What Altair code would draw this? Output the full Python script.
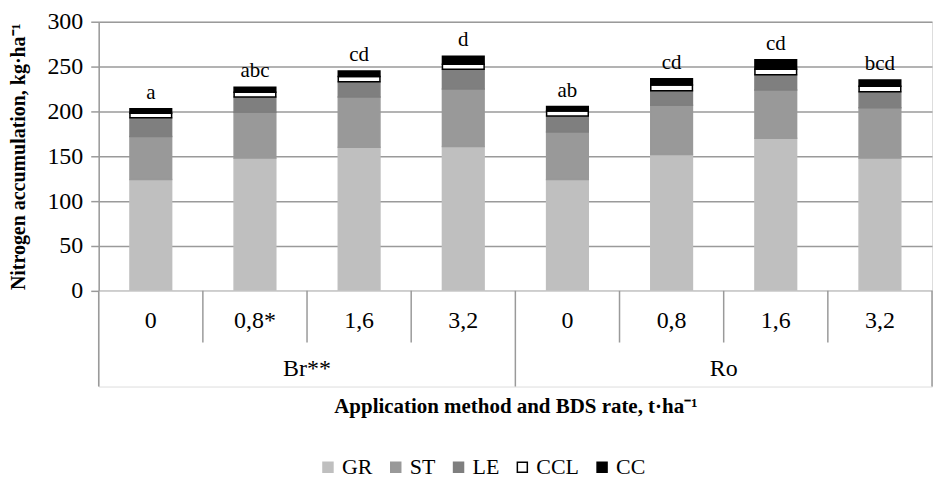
import altair as alt
import pandas as pd

# ---- data ----
groups = ["Br**", "Br**", "Br**", "Br**", "Ro", "Ro", "Ro", "Ro"]
rates = ["0", "0,8*", "1,6", "3,2", "0", "0,8", "1,6", "3,2"]
GR = [124, 148, 160, 161, 124, 152, 170, 148]
ST = [48, 51, 56, 64, 53, 55, 54, 56]
LE = [21, 17, 17, 22, 18, 16, 17, 18]
CCL = [5, 5.5, 6, 5.5, 5.5, 6.5, 6, 6]
CC = [5, 5.5, 6, 9, 5, 7, 10.5, 7]
letters = ["a", "abc", "cd", "d", "ab", "cd", "cd", "bcd"]
group_names = ["Br**", "Ro"]

components = ["GR", "ST", "LE", "CCL", "CC"]
fills = ["#BFBFBF", "#999999", "#7F7F7F", "#FFFFFF", "#000000"]
strokes = ["#BFBFBF", "#999999", "#7F7F7F", "#000000", "#000000"]

FONT = "Liberation Serif"
GRID = "#9a9a9a"
W = 836

series = dict(GR=GR, ST=ST, LE=LE, CCL=CCL, CC=CC)
rows = []
tops = []
for i in range(len(rates)):
    base = 0.0
    for comp in components:
        v = series[comp][i]
        rows.append(dict(idx=i, comp=comp, lo=base, hi=base + v,
                         x0=i + 0.3, x1=i + 0.7))
        base += v
    tops.append(dict(idx=i, xc=i + 0.5, total=base, letter=letters[i]))
df = pd.DataFrame(rows)
tdf = pd.DataFrame(tops)

xscale = alt.Scale(domain=[0, len(rates)], nice=False, zero=False)

legend_spec = dict(title=None, orient="none", legendX=219, legendY=436,
                   direction="horizontal",
                   symbolType="square", symbolSize=100, labelFont=FONT,
                   labelFontSize=22, labelColor="black", columnPadding=12,
                   labelOffset=3, symbolStrokeWidth=1.5)

bars = alt.Chart(df).mark_bar(strokeWidth=1.5).encode(
    x=alt.X("x0:Q", scale=xscale, axis=None),
    x2="x1:Q",
    y=alt.Y("lo:Q", scale=alt.Scale(domain=[0, 300], nice=False),
            axis=alt.Axis(values=[0, 50, 100, 150, 200, 250, 300],
                          title="Nitrogen accumulation, kg·ha⁻¹",
                          titleFont=FONT, titleFontSize=20, titleFontWeight="bold",
                          titleColor="black", titlePadding=18,
                          labelFont=FONT, labelFontSize=24, labelColor="black",
                          labelPadding=8, tickSize=8, tickColor=GRID, tickWidth=1.5,
                          domainColor=GRID, domainWidth=1.5,
                          gridColor=GRID, gridWidth=1.5)),
    y2="hi:Q",
    color=alt.Color("comp:N", scale=alt.Scale(domain=components, range=fills),
                    legend=alt.Legend(**legend_spec)),
    stroke=alt.Stroke("comp:N", scale=alt.Scale(domain=components, range=strokes),
                      legend=alt.Legend(**legend_spec)),
)

labels = alt.Chart(tdf).mark_text(font=FONT, fontSize=21, baseline="bottom",
                                  dy=-6, color="black").encode(
    x=alt.X("xc:Q", scale=xscale, axis=None),
    y=alt.Y("total:Q", scale=alt.Scale(domain=[0, 300], nice=False)),
    text="letter:N",
)

top = alt.layer(bars, labels).properties(width=W, height=270)

# ---- two-level category axis ----
bdf = pd.DataFrame([dict(b=b, t=1.0, e=(0.0 if b % 4 == 0 else 0.46))
                    for b in range(len(rates) + 1)])
rdf = pd.DataFrame([dict(xc=i + 0.5, rate=rates[i]) for i in range(len(rates))])
gdf = pd.DataFrame([dict(xc=2.0 + 4 * j, g=group_names[j]) for j in range(len(group_names))])

x_axis_bottom = alt.Axis(title="Application method and BDS rate, t·ha⁻¹",
                         labels=False, ticks=False, domain=False, grid=False,
                         titleFont=FONT, titleFontSize=21, titleFontWeight="bold",
                         titleColor="black", titlePadding=9)
yscale_b = alt.Scale(domain=[0, 1])

rules = alt.Chart(bdf).mark_rule(color=GRID, strokeWidth=1.5).encode(
    x=alt.X("b:Q", scale=xscale, axis=x_axis_bottom),
    y=alt.Y("t:Q", scale=yscale_b, axis=None),
    y2="e:Q",
)
rate_txt = alt.Chart(rdf).mark_text(font=FONT, fontSize=24, color="black").encode(
    x=alt.X("xc:Q", scale=xscale, axis=x_axis_bottom),
    y=alt.YDatum(0.684, scale=yscale_b, axis=None),
    text="rate:N",
)
grp_txt = alt.Chart(gdf).mark_text(font=FONT, fontSize=24, color="black").encode(
    x=alt.X("xc:Q", scale=xscale, axis=x_axis_bottom),
    y=alt.YDatum(0.184, scale=yscale_b, axis=None),
    text="g:N",
)
bottom = alt.layer(rules, rate_txt, grp_txt).properties(width=W, height=96)

chart = alt.vconcat(top, bottom, spacing=0, bounds="flush").properties(
    padding={"left": 0, "top": 0, "right": 0, "bottom": 0}
).configure_view(stroke=None).configure(font=FONT)

chart.save("out.html", embed_options={"renderer": "svg", "actions": False})
